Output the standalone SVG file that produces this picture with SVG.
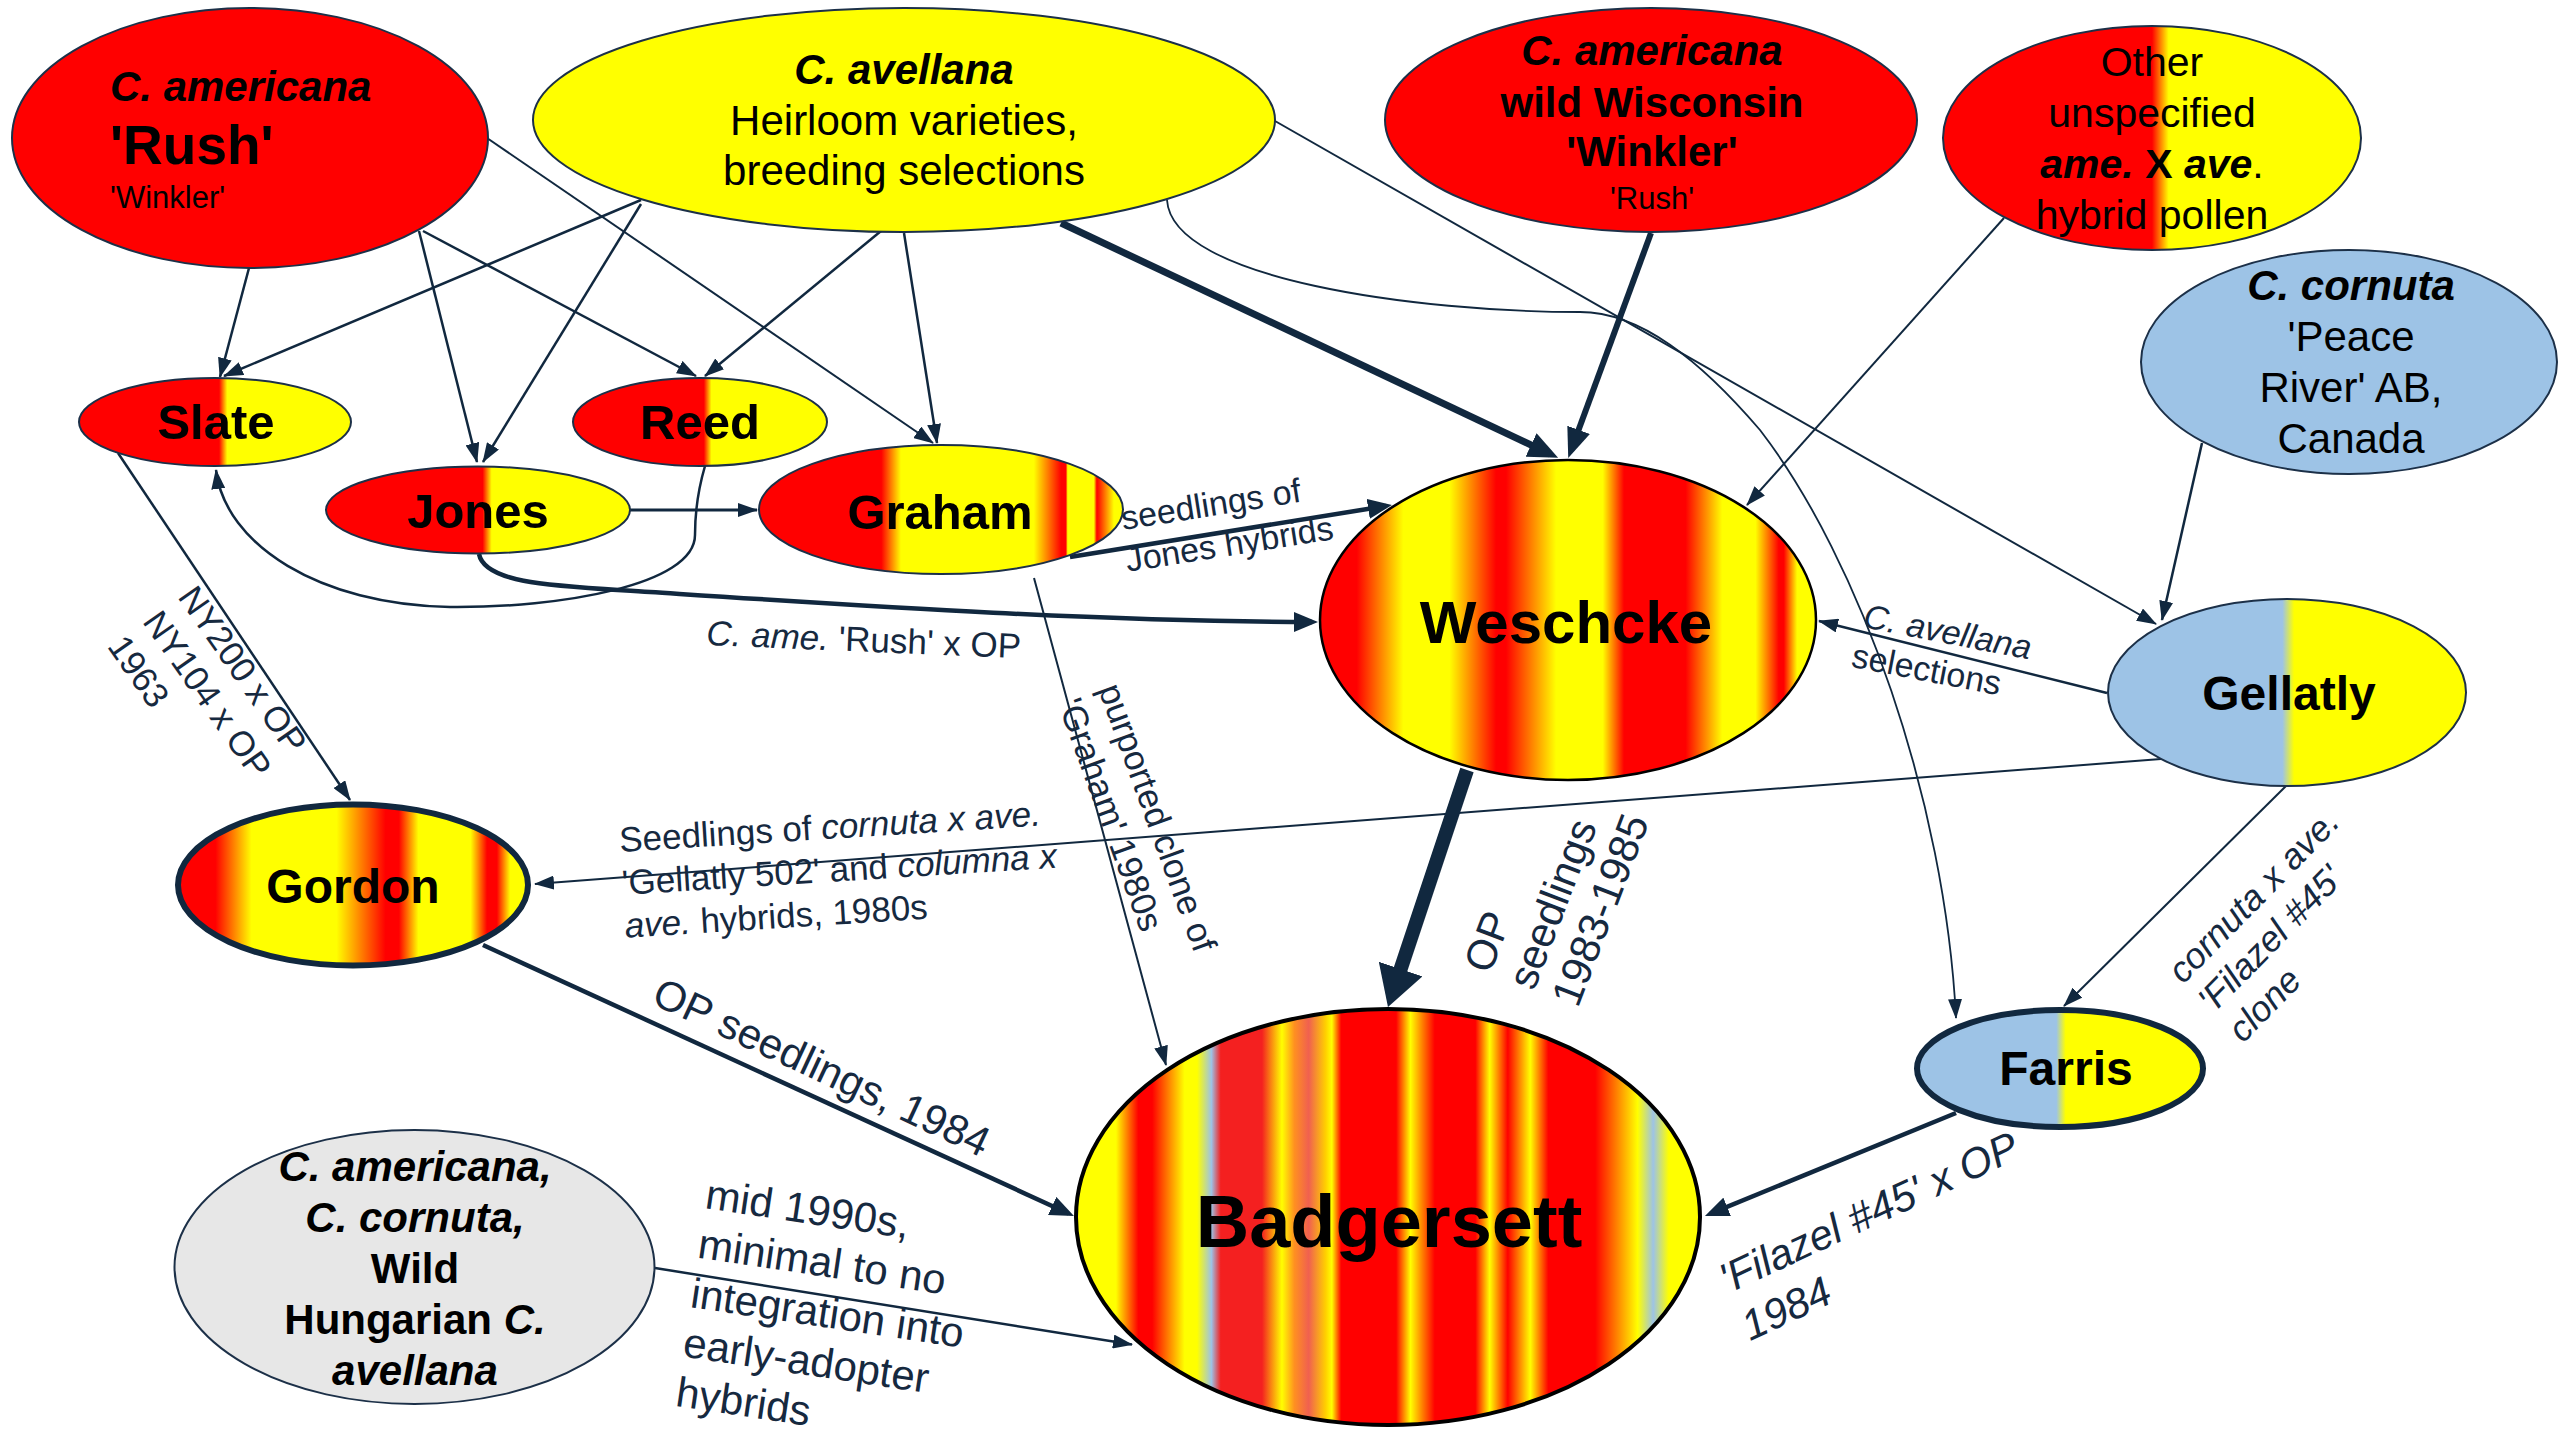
<svg xmlns="http://www.w3.org/2000/svg" width="2560" height="1440" viewBox="0 0 2560 1440">
<defs>
<style>
.n{stroke:#1c3048;stroke-width:2}
.nt{font-family:"Liberation Sans",Arial,sans-serif;fill:#000;text-anchor:middle}
.b{font-weight:bold}
.i{font-style:italic}
.c{fill:none;stroke:#11283f;stroke-width:2.5}
.l{font-family:"Liberation Sans",Arial,sans-serif;fill:#16293f}
</style>
<marker id="aS" markerUnits="userSpaceOnUse" viewBox="0 0 20 14" markerWidth="20" markerHeight="14" refX="19" refY="7" orient="auto"><path d="M0,0 L20,7 L0,14 z" fill="#11283f"/></marker>
<marker id="aM" markerUnits="userSpaceOnUse" viewBox="0 0 24 20" markerWidth="24" markerHeight="20" refX="18" refY="10" orient="auto"><path d="M0,0 L24,10 L0,20 z" fill="#11283f"/></marker>
<marker id="aL" markerUnits="userSpaceOnUse" viewBox="0 0 30 26" markerWidth="30" markerHeight="26" refX="21" refY="13" orient="auto"><path d="M0,0 L30,13 L0,26 z" fill="#11283f"/></marker>
<marker id="aL2" markerUnits="userSpaceOnUse" viewBox="0 0 30 24" markerWidth="30" markerHeight="24" refX="22" refY="12" orient="auto"><path d="M0,0 L30,12 L0,24 z" fill="#11283f"/></marker>
<marker id="aXL" markerUnits="userSpaceOnUse" viewBox="0 0 40 46" markerWidth="40" markerHeight="46" refX="26" refY="23" orient="auto"><path d="M0,0 L40,23 L0,46 z" fill="#11283f"/></marker>
<linearGradient id="gRY" x1="0" y1="0" x2="1" y2="0"><stop offset="0" stop-color="#f00"/><stop offset="0.515" stop-color="#f00"/><stop offset="0.545" stop-color="#ff0"/><stop offset="1" stop-color="#ff0"/></linearGradient>
<linearGradient id="gOther" x1="0" y1="0" x2="1" y2="0"><stop offset="0" stop-color="#f00"/><stop offset="0.5" stop-color="#f00"/><stop offset="0.54" stop-color="#ff0"/><stop offset="1" stop-color="#ff0"/></linearGradient>
<linearGradient id="gBY" x1="0" y1="0" x2="1" y2="0"><stop offset="0" stop-color="#9dc3e6"/><stop offset="0.487" stop-color="#9dc3e6"/><stop offset="0.52" stop-color="#ff0"/><stop offset="1" stop-color="#ff0"/></linearGradient>
<linearGradient id="gGraham" x1="0" y1="0" x2="1" y2="0"><stop offset="0" stop-color="#f00"/><stop offset="0.336" stop-color="#f00"/><stop offset="0.39" stop-color="#ff0"/><stop offset="0.755" stop-color="#ff0"/><stop offset="0.83" stop-color="#f00"/><stop offset="0.843" stop-color="#f00"/><stop offset="0.848" stop-color="#ff0"/><stop offset="0.92" stop-color="#ff0"/><stop offset="0.928" stop-color="#f00"/><stop offset="0.935" stop-color="#f20"/><stop offset="0.975" stop-color="#ff0"/><stop offset="1" stop-color="#ff0"/></linearGradient>
<linearGradient id="gWes" x1="0" y1="0" x2="1" y2="0"><stop offset="0" stop-color="#f00"/><stop offset="0.074" stop-color="#f00"/><stop offset="0.168" stop-color="#ff0"/><stop offset="0.261" stop-color="#ff0"/><stop offset="0.355" stop-color="#f00"/><stop offset="0.375" stop-color="#f00"/><stop offset="0.476" stop-color="#ff0"/><stop offset="0.57" stop-color="#ff0"/><stop offset="0.613" stop-color="#f00"/><stop offset="0.737" stop-color="#f00"/><stop offset="0.811" stop-color="#ff0"/><stop offset="0.878" stop-color="#ff0"/><stop offset="0.925" stop-color="#f00"/><stop offset="0.935" stop-color="#f00"/><stop offset="0.962" stop-color="#ff0"/><stop offset="1" stop-color="#ff0"/></linearGradient>
<linearGradient id="gGor" x1="0" y1="0" x2="1" y2="0"><stop offset="0" stop-color="#f00"/><stop offset="0.107" stop-color="#f00"/><stop offset="0.21" stop-color="#ff0"/><stop offset="0.453" stop-color="#ff0"/><stop offset="0.593" stop-color="#f00"/><stop offset="0.631" stop-color="#f00"/><stop offset="0.687" stop-color="#ff0"/><stop offset="0.836" stop-color="#ff0"/><stop offset="0.883" stop-color="#f00"/><stop offset="0.911" stop-color="#f00"/><stop offset="0.949" stop-color="#ff0"/><stop offset="1" stop-color="#ff0"/></linearGradient>
<linearGradient id="gBad" x1="0" y1="0" x2="1" y2="0"><stop offset="0" stop-color="#ff0"/><stop offset="0.064" stop-color="#ff0"/><stop offset="0.1" stop-color="#f00"/><stop offset="0.122" stop-color="#f00"/><stop offset="0.174" stop-color="#ff0"/><stop offset="0.194" stop-color="#ff0"/><stop offset="0.217" stop-color="#9dc3e6"/><stop offset="0.232" stop-color="#f42020"/><stop offset="0.298" stop-color="#f42020"/><stop offset="0.33" stop-color="#ff0"/><stop offset="0.35" stop-color="#ff9020"/><stop offset="0.373" stop-color="#f06050"/><stop offset="0.4" stop-color="#ffd000"/><stop offset="0.41" stop-color="#ff0"/><stop offset="0.425" stop-color="#f00"/><stop offset="0.513" stop-color="#f00"/><stop offset="0.536" stop-color="#ff0"/><stop offset="0.555" stop-color="#ff8000"/><stop offset="0.575" stop-color="#f00"/><stop offset="0.64" stop-color="#f00"/><stop offset="0.663" stop-color="#ff0"/><stop offset="0.692" stop-color="#f00"/><stop offset="0.728" stop-color="#ff0"/><stop offset="0.757" stop-color="#f00"/><stop offset="0.832" stop-color="#f00"/><stop offset="0.9" stop-color="#ff0"/><stop offset="0.925" stop-color="#9dc3e6"/><stop offset="0.95" stop-color="#ff0"/><stop offset="1" stop-color="#ff0"/></linearGradient>
</defs>
<rect width="2560" height="1440" fill="#fff"/>
<g id="connectors">
<path class="c" d="M249,268 L220,377" marker-end="url(#aS)"/>
<path class="c" d="M419,231 L477,462" marker-end="url(#aS)"/>
<path class="c" d="M423,231 L696,376" marker-end="url(#aS)"/>
<path class="c" style="stroke-width:2" d="M487,138 L933,443" marker-end="url(#aS)"/>
<path class="c" d="M641,200 L224,376" marker-end="url(#aS)"/>
<path class="c" d="M641,204 L483,462" marker-end="url(#aS)"/>
<path class="c" d="M881,231 L705,376" marker-end="url(#aS)"/>
<path class="c" d="M904,233 L937,443" marker-end="url(#aS)"/>
<path class="c" style="stroke-width:2" d="M1275,121 L2156,624" marker-end="url(#aS)"/>
<path class="c" style="stroke-width:1.8" d="M1167,200 C1172,280 1420,312 1580,312 C1640,312 1700,360 1760,430 C1860,560 1945,800 1956,1018" marker-end="url(#aS)"/>
<path class="c" style="stroke-width:2" d="M2004,218 L1747,505" marker-end="url(#aS)"/>
<path class="c" d="M2202,443 L2162,620" marker-end="url(#aS)"/>
<path class="c" d="M2107,693 L1819,621" marker-end="url(#aS)"/>
<path class="c" style="stroke-width:2" d="M2161,759 L535,884" marker-end="url(#aS)"/>
<path class="c" style="stroke-width:2" d="M2286,786 L2064,1006" marker-end="url(#aS)"/>
<path class="c" d="M118,453 L350,800" marker-end="url(#aS)"/>
<path class="c" d="M705,466 C698,490 695,510 695,535 C695,585 560,608 450,607 C320,605 225,545 216,470" marker-end="url(#aS)"/>
<path class="c" style="stroke-width:3" d="M630,510 L757,510" marker-end="url(#aS)"/>
<path class="c" style="stroke-width:2" d="M1034,578 L1166,1065" marker-end="url(#aS)"/>
<path class="c" d="M655,1268 L1132,1344.5" marker-end="url(#aS)"/>
<path class="c" style="stroke-width:4.5" d="M1070,557 L1386,506" marker-end="url(#aM)"/>
<path class="c" style="stroke-width:4.5" d="M479,554 C485,585 560,586 650,592 C850,605 1100,622 1312,622" marker-end="url(#aM)"/>
<path class="c" style="stroke-width:4.5" d="M483,945 L1068.5,1213.5" marker-end="url(#aM)"/>
<path class="c" style="stroke-width:4.5" d="M1956,1113 L1710.5,1213.7" marker-end="url(#aM)"/>
<path class="c" style="stroke-width:7" d="M1061,223 L1550,454" marker-end="url(#aL)"/>
<path class="c" style="stroke-width:6" d="M1651,233 L1571,450.5" marker-end="url(#aL2)"/>
<path class="c" style="stroke-width:14" d="M1467,770 L1392.4,993.7" marker-end="url(#aXL)"/>
<text class="l" font-size="35" transform="translate(706,645) rotate(2.4)"><tspan class="i">C. ame.</tspan> 'Rush' x OP</text>
<text class="l" font-size="34" transform="translate(1123,530) rotate(-9)"><tspan x="0" y="0">seedlings of</tspan><tspan x="-2" y="42">Jones hybrids</tspan></text>
<text class="l" font-size="35" transform="translate(177,597) rotate(55)"><tspan x="0" y="0">NY200 x OP</tspan><tspan x="0" y="43">NY104 x OP</tspan><tspan x="0" y="86">1963</tspan></text>
<text class="l" font-size="35" transform="translate(1098,689) rotate(70)"><tspan x="0" y="0">purported clone of</tspan><tspan x="0" y="43">'Graham' 1980s</tspan></text>
<text class="l" font-size="35" transform="translate(620,852) rotate(-3.6)"><tspan x="0" y="0">Seedlings of <tspan class="i">cornuta x ave.</tspan></tspan><tspan x="0" y="43">'Gellatly 502' and <tspan class="i">columna x</tspan></tspan><tspan x="0" y="86"><tspan class="i">ave.</tspan> hybrids, 1980s</tspan></text>
<text class="l" font-size="42" transform="translate(650,1003) rotate(25)">OP seedlings, 1984</text>
<text class="l" font-size="42" transform="translate(704,1208) rotate(8.5)"><tspan x="0" y="0">mid 1990s,</tspan><tspan x="0" y="50">minimal to no</tspan><tspan x="0" y="100">integration into</tspan><tspan x="0" y="150">early-adopter</tspan><tspan x="0" y="200">hybrids</tspan></text>
<text class="l" font-size="34" transform="translate(1862,627) rotate(11)"><tspan x="0" y="0" class="i">C. avellana</tspan><tspan x="-4" y="41">selections</tspan></text>
<text class="l" font-size="42" transform="translate(1490,975) rotate(-69)"><tspan x="0" y="0">OP</tspan><tspan x="0" y="47">seedlings</tspan><tspan x="0" y="94">1983-1985</tspan></text>
<text class="l i" font-size="36" transform="translate(2183,985) rotate(-45.5)"><tspan x="0" y="0">cornuta x ave.</tspan><tspan x="0" y="42">'Filazel #45'</tspan><tspan x="0" y="84">clone</tspan></text>
<text class="l i" font-size="42" transform="translate(1728,1294) rotate(-25)"><tspan x="0" y="0">'Filazel #45' x OP</tspan><tspan x="0" y="52">1984</tspan></text>
</g>
<g id="node-rush">
<ellipse class="n" cx="250" cy="138" rx="238" ry="130" fill="#f00"/>
<text class="nt b i" x="110" y="101" font-size="42" style="text-anchor:start">C. americana</text>
<text class="nt b" x="110" y="164" font-size="55" style="text-anchor:start">'Rush'</text>
<text class="nt" x="110" y="208" font-size="31" style="text-anchor:start">'Winkler'</text>
</g>
<g id="node-avellana">
<ellipse class="n" cx="904" cy="120" rx="371" ry="112" fill="#ff0"/>
<text class="nt b i" x="904" y="84" font-size="42">C. avellana</text>
<text class="nt" x="904" y="135" font-size="42">Heirloom varieties,</text>
<text class="nt" x="904" y="185" font-size="42">breeding selections</text>
</g>
<g id="node-winkler">
<ellipse class="n" cx="1651" cy="120" rx="266" ry="112" fill="#f00"/>
<text class="nt b i" x="1652" y="65" font-size="42">C. americana</text>
<text class="nt b" x="1652" y="117" font-size="42">wild Wisconsin</text>
<text class="nt b" x="1652" y="166" font-size="42">'Winkler'</text>
<text class="nt" x="1652" y="209" font-size="31">'Rush'</text>
</g>
<g id="node-other">
<ellipse class="n" cx="2152" cy="138" rx="209" ry="112" fill="url(#gOther)"/>
<text class="nt" x="2152" y="76" font-size="41">Other</text>
<text class="nt" x="2152" y="127" font-size="41">unspecified</text>
<text class="nt" x="2152" y="178" font-size="41"><tspan class="b i">ame.</tspan><tspan class="b"> X </tspan><tspan class="b i">ave</tspan>.</text>
<text class="nt" x="2152" y="229" font-size="41">hybrid pollen</text>
</g>
<g id="node-cornuta">
<ellipse class="n" cx="2349" cy="362" rx="208" ry="112" fill="#9dc3e6"/>
<text class="nt b i" x="2351" y="300" font-size="42">C. cornuta</text>
<text class="nt" x="2351" y="351" font-size="42">'Peace</text>
<text class="nt" x="2351" y="402" font-size="42">River' AB,</text>
<text class="nt" x="2351" y="453" font-size="42">Canada</text>
</g>
<g id="node-slate">
<ellipse class="n" cx="215" cy="422" rx="136" ry="44" fill="url(#gRY)"/>
<text class="nt b" x="216" y="439" font-size="49">Slate</text>
</g>
<g id="node-reed">
<ellipse class="n" cx="700" cy="422" rx="127" ry="44" fill="url(#gRY)"/>
<text class="nt b" x="700" y="439" font-size="49">Reed</text>
</g>
<g id="node-jones">
<ellipse class="n" cx="478" cy="510" rx="152" ry="43.5" fill="url(#gRY)"/>
<text class="nt b" x="478" y="528" font-size="49">Jones</text>
</g>
<g id="node-graham">
<ellipse class="n" cx="941" cy="509.5" rx="182" ry="64.5" fill="url(#gGraham)"/>
<text class="nt b" x="940" y="529" font-size="49">Graham</text>
</g>
<g id="node-weschcke">
<ellipse cx="1568" cy="620" rx="248" ry="160" fill="url(#gWes)" stroke="#000" stroke-width="2.5"/>
<text class="nt b" x="1566" y="643" font-size="60">Weschcke</text>
</g>
<g id="node-gellatly">
<ellipse class="n" cx="2287" cy="692.5" rx="179" ry="93.5" fill="url(#gBY)"/>
<text class="nt b" x="2289" y="710" font-size="48">Gellatly</text>
</g>
<g id="node-gordon">
<ellipse cx="353" cy="885" rx="175" ry="80.5" fill="url(#gGor)" stroke="#11283f" stroke-width="6"/>
<text class="nt b" x="353" y="903" font-size="48">Gordon</text>
</g>
<g id="node-farris">
<ellipse cx="2060" cy="1068.5" rx="143" ry="58.5" fill="url(#gBY)" stroke="#11283f" stroke-width="6"/>
<text class="nt b" x="2066" y="1085" font-size="48">Farris</text>
</g>
<g id="node-badgersett">
<ellipse cx="1388" cy="1217" rx="312" ry="208" fill="url(#gBad)" stroke="#000" stroke-width="4"/>
<text class="nt b" x="1389" y="1247" font-size="74">Badgersett</text>
</g>
<g id="node-wild">
<ellipse class="n" cx="414.5" cy="1267" rx="240" ry="137" fill="#e7e7e7"/>
<text class="nt b i" x="415" y="1181" font-size="42">C. americana,</text>
<text class="nt b i" x="415" y="1232" font-size="42">C. cornuta,</text>
<text class="nt b" x="415" y="1283" font-size="42">Wild</text>
<text class="nt b" x="415" y="1334" font-size="42">Hungarian <tspan class="i">C.</tspan></text>
<text class="nt b i" x="415" y="1385" font-size="42">avellana</text>
</g>
</svg>
